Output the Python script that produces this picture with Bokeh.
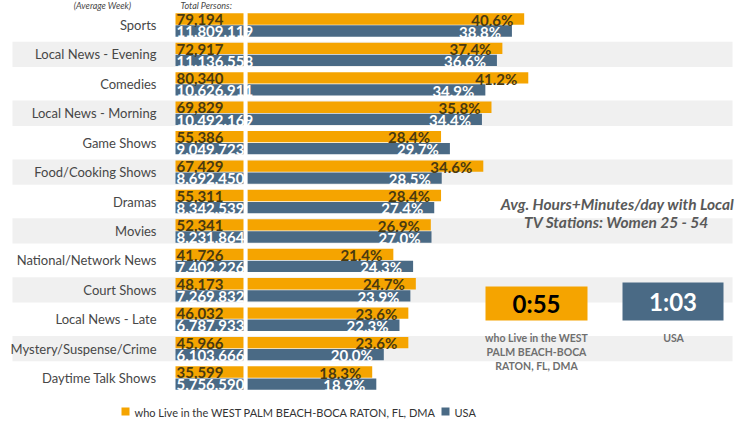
from bokeh.plotting import figure
from bokeh.models import Range1d, ColumnDataSource
from bokeh.core.properties import value
from bokeh.embed import file_html
from bokeh.resources import INLINE

# ---------------- data ----------------
categories = ["Sports", "Local News - Evening", "Comedies", "Local News - Morning",
              "Game Shows", "Food/Cooking Shows", "Dramas", "Movies",
              "National/Network News", "Court Shows", "Local News - Late",
              "Mystery/Suspense/Crime", "Daytime Talk Shows"]
local_pct = [40.6, 37.4, 41.2, 35.8, 28.4, 34.6, 28.4, 26.9, 21.4, 24.7, 23.6, 23.6, 18.3]
usa_pct = [38.8, 36.6, 34.9, 34.4, 29.7, 28.5, 27.4, 27.0, 24.3, 23.9, 22.3, 20.0, 18.9]
local_persons = ["79,194", "72,917", "80,340", "69,829", "55,386", "67,429", "55,311",
                 "52,341", "41,726", "48,173", "46,032", "45,966", "35,599"]
usa_persons = ["11,809,119", "11,136,558", "10,626,911", "10,492,169", "9,049,723",
               "8,692,450", "8,342,539", "8,231,864", "7,402,226", "7,269,832",
               "6,787,933", "6,103,666", "5,756,590"]
series_names = ["who Live in the WEST PALM BEACH-BOCA RATON, FL, DMA", "USA"]
avg_time = ["0:55", "1:03"]

ORANGE = "#F5A400"
BLUE = "#4A6A85"
GRAY = "#474747"
FONT = "Lato"

# layout helpers (reference pixel -> data coordinates)
PX0, PXS = 247.0, 6.815
PY0, PYS = 24.5, 29.42
def X(px):
    return (px - PX0) / PXS
def Y(py):
    return (py - PY0) / PYS

W, H = 740, 423
p = figure(width=W, height=H, output_backend="svg", toolbar_location=None,
           x_range=Range1d(X(0), X(W)), y_range=Range1d(Y(H), Y(0)),
           min_border=0, outline_line_color=None)
p.axis.visible = False
p.grid.visible = False
p.background_fill_color = "white"
p.border_fill_color = "white"

n = len(categories)
rows = list(range(n))
stripe_rows = [i for i in rows if i % 2 == 1]

# stripes
p.hbar(y=stripe_rows, left=X(12), right=X(732), height=0.86,
       fill_color="#F0F0F0", line_color=None)

OFF = 0.205
BH = 0.385
src = ColumnDataSource(dict(
    yo=[i - OFF for i in rows], yb=[i + OFF for i in rows],
    lp=local_pct, up=usa_pct,
    lpx=[v - 11 / PXS for v in local_pct], upx=[v - 11 / PXS for v in usa_pct],
    lt=[f"{v:.1f}%" for v in local_pct], ut=[f"{v:.1f}%" for v in usa_pct],
    lpers=local_persons, upers=usa_persons, cat=categories, row=rows,
    yot=[i - 0.18 for i in rows], ybt=[i + 0.23 for i in rows],
))

# main bars
p.hbar(y="yo", left=0, right="lp", height=BH, fill_color=ORANGE, line_color=None, source=src)
p.hbar(y="yb", left=0, right="up", height=BH, fill_color=BLUE, line_color=None, source=src)

# total persons cells
p.hbar(y="yo", left=X(175), right=0, height=BH, fill_color=ORANGE, line_color=None, source=src)
p.hbar(y="yb", left=X(175), right=0, height=BH, fill_color=BLUE, line_color=None, source=src)
p.text(x=X(176), y="yot", text="lpers", source=src, text_font=value(FONT),
       text_font_size="15px", text_font_style="bold", text_color="#4A3A10",
       text_align="left", text_baseline="middle")
p.text(x=X(176), y="ybt", text="upers", source=src, text_font=value(FONT),
       text_font_size="15px", text_font_style="bold", text_color="white",
       text_align="left", text_baseline="middle")
# white column separator (clips long numbers)
p.quad(left=X(243), right=0, bottom=Y(H), top=Y(0), fill_color="white", line_color=None)

# percent labels
p.text(x="lpx", y="yot", text="lt", source=src, text_font=value(FONT),
       text_font_size="15px", text_font_style="bold", text_color="#4A3A10",
       text_align="right", text_baseline="middle")
p.text(x="upx", y="ybt", text="ut", source=src, text_font=value(FONT),
       text_font_size="15px", text_font_style="bold", text_color="white",
       text_align="right", text_baseline="middle")

# category labels
p.text(x=X(156), y="row", text="cat", source=src, text_font=value(FONT),
       text_font_size="13px", text_color=GRAY, text_align="right",
       text_baseline="middle")

# header
p.text(x=[X(102)], y=[Y(10)], text=["(Average Week)"], text_font=value(FONT),
       text_font_size="9px", text_font_style="italic", text_color=GRAY,
       text_align="center", text_baseline="bottom")
p.text(x=[X(180)], y=[Y(10)], text=["Total Persons:"], text_font=value(FONT),
       text_font_size="9px", text_font_style="italic", text_color=GRAY,
       text_align="left", text_baseline="bottom")

# right panel
p.text(x=[X(617), X(616)], y=[Y(203), Y(221)],
       text=["Avg. Hours+Minutes/day with Local", "TV Stations: Women 25 - 54"],
       text_font=value(FONT), text_font_size="15.5px", text_font_style="bold italic",
       text_color="#595959", text_align="center", text_baseline="middle")
p.quad(left=[X(485), X(622)], right=[X(587), X(723)], top=[Y(286), Y(282)],
       bottom=[Y(320), Y(320)], fill_color=[ORANGE, BLUE], line_color=None)
p.text(x=[X(536), X(672.5)], y=[Y(303), Y(301)], text=avg_time,
       text_font=value(FONT), text_font_size="24px", text_font_style="bold",
       text_color=["black", "white"], text_align="center", text_baseline="middle")
p.text(x=[X(536)] * 3, y=[Y(337), Y(351), Y(365)],
       text=["who Live in the WEST", "PALM BEACH-BOCA", "RATON, FL, DMA"],
       text_font=value(FONT), text_font_size="10.5px", text_font_style="bold",
       text_color="#6F6F6F", text_align="center", text_baseline="middle")
p.text(x=[X(673)], y=[Y(337)], text=["USA"],
       text_font=value(FONT), text_font_size="10.5px", text_font_style="bold",
       text_color="#6F6F6F", text_align="center", text_baseline="middle")

# legend
p.quad(left=[X(121), X(441)], right=[X(129), X(449)], top=[Y(407), Y(407)],
       bottom=[Y(415), Y(415)], fill_color=[ORANGE, BLUE], line_color=None)
p.text(x=[X(134), X(454)], y=[Y(411.5), Y(411.5)], text=series_names,
       text_font=value(FONT), text_font_size="11px", text_color="#333333",
       text_align="left", text_baseline="middle")

open("out.html", "w").write(file_html(p, INLINE))
